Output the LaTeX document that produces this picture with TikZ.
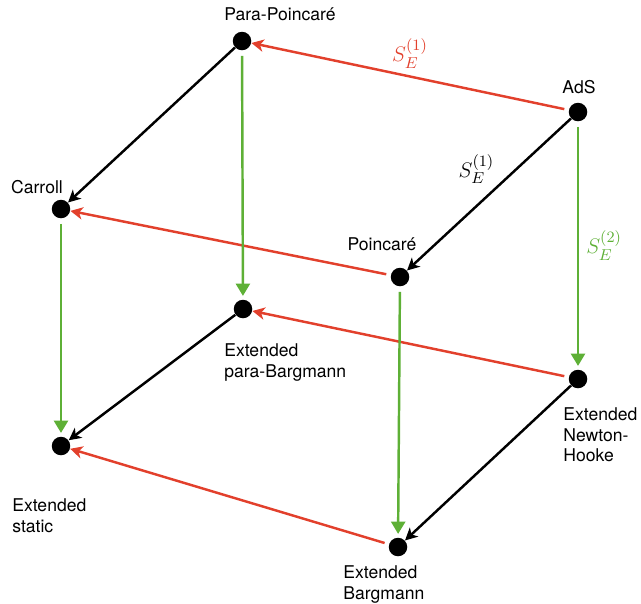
\documentclass[tikz,border=0pt]{standalone}
\usepackage{fontspec}
\setsansfont{TeX Gyre Heros}
\usetikzlibrary{arrows.meta}
\definecolor{contrred}{RGB}{226,64,44}
\definecolor{contrgreen}{RGB}{94,176,54}

\begin{document}
\begin{tikzpicture}[x=0.02cm, y=-0.02cm, font=\sffamily\fontsize{10}{11.9}\selectfont,
  alg/.style={circle, fill=black, inner sep=0pt, minimum size=0.37cm},
  algname/.style={inner sep=0pt, align=left},
  redarr/.style={-{Stealth[length=7pt, width=7pt, inset=2pt]}, line width=1.4pt, contrred, shorten <=2.5pt},
  blkarr/.style={-{Stealth[length=7pt, width=7pt, inset=2pt]}, line width=1.4pt, black},
  grnarr/.style={-{Triangle[length=7pt, width=8pt]}, line width=1.4pt, contrgreen, shorten <=3pt, shorten >=2pt},
  contr/.style={font=\fontsize{12.5}{14}\selectfont, inner sep=1pt}]
  \useasboundingbox (0,0) rectangle (641,603);
  % algebras
  \node[alg] (pp) at (242,41) {};
  \node[alg] (ads) at (578,112) {};
  \node[alg] (car) at (61,209) {};
  \node[alg] (poi) at (400,277) {};
  \node[alg] (epb) at (243,309) {};
  \node[alg] (enh) at (578,379) {};
  \node[alg] (est) at (61,446) {};
  \node[alg] (eb) at (398,547) {};
  % names
  \node[algname, anchor=north] (ppname) at (280,7) {Para-Poincar\'e};
  \node[algname, anchor=north] (adsname) at (579,80) {AdS};
  \node[algname, anchor=north] (carname) at (37,180) {Carroll};
  \node[algname, anchor=north] (poiname) at (382,237) {Poincar\'e};
  \node[algname, anchor=north west] (epbname) at (224,343) {Extended\\para-Bargmann};
  \node[algname, anchor=north west] (enhname) at (563,407) {Extended\\Newton-\\Hooke};
  \node[algname, anchor=north west] (estname) at (12,498) {Extended\\static};
  \node[algname, anchor=north west] (ebname) at (343,565) {Extended\\Bargmann};
  % contractions
  \draw[redarr] (ads) -- (pp) node[contr, midway, above=3pt, text=contrred] {$S_E^{(1)}$};
  \draw[redarr] (poi) -- (car);
  \draw[redarr] (enh) -- (epb);
  \draw[redarr] (eb) -- (est);
  \draw[blkarr] (pp) -- (car);
  \draw[blkarr] (ads) -- (poi) node[contr, pos=0.45, above left, text=black] {$S_E^{(1)}$};
  \draw[blkarr] (epb) -- (est);
  \draw[blkarr] (enh) -- (eb);
  \draw[grnarr] (pp) -- (epb);
  \draw[grnarr] (ads) -- (enh) node[contr, midway, right=3pt, text=contrgreen] {$S_E^{(2)}$};
  \draw[grnarr] (car) -- (est);
  \draw[grnarr] (poi) -- (eb);
\end{tikzpicture}
\end{document}
